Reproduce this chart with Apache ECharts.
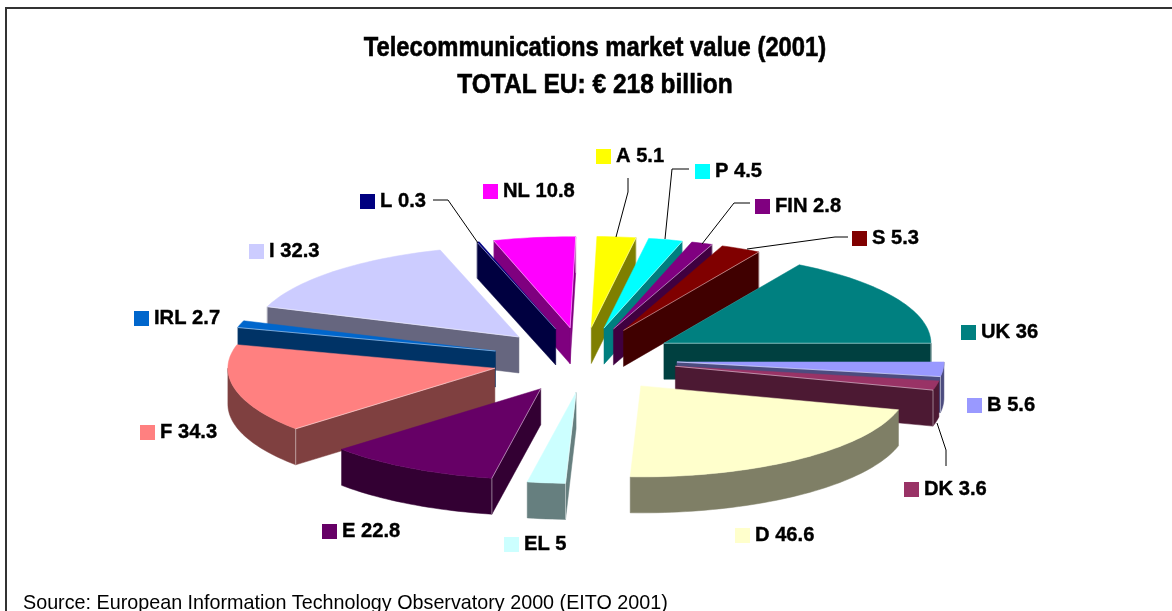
<!DOCTYPE html>
<html><head><meta charset="utf-8">
<style>html,body{margin:0;padding:0;background:#fff;overflow:hidden}#c{width:1172px;height:611px}</style>
<script src="https://cdn.jsdelivr.net/npm/echarts@6/dist/echarts.min.js"></script>
</head><body><div id="c"></div>
<script>
const categories = ['A','P','FIN','S','UK','B','DK','D','EL','E','F','IRL','I','L','NL'];
const values = [5.1,4.5,2.8,5.3,36,5.6,3.6,46.6,5,22.8,34.3,2.7,32.3,0.3,10.8];
const colors = ['#FFFF00','#00FFFF','#800080','#800000','#008080','#9999FF','#993366','#FFFFCC','#CCFFFF','#660066','#FF8080','#0066CC','#CCCCFF','#000080','#FF00FF'];
const titleLines = ['Telecommunications market value (2001)','TOTAL EU: € 218 billion'];
const sourceText = 'Source: European Information Technology Observatory 2000 (EITO 2001)';

// label square positions (layout only)
const labelX = [596,695,755,852,961,967,904,735,504,322,140,134,249,360,483];
const labelY = [149,164,199,231,325,398,482,528,537,524,425,311,244,194,184];
const leaders = {
  A:[[628,178],[628,192],[616,237]],
  P:[[689,169],[672,169],[665,239]],
  FIN:[[750,203],[734,203],[702,244]],
  S:[[848,237],[835,237],[747,249]],
  DK:[[946,466],[946,450],[937,423]],
  L:[[433,200],[448,200],[478,243]]
};

const CX=584.5, CY=360, RX=267, RY=91, EX=92.6, EY=32.6, H=36, ROT=1.2;
const FONT='"Liberation Sans",Arial,sans-serif';
const total = values.reduce((a,b)=>a+b,0);
const rad = d=>d*Math.PI/180;

function half(hex){
  const n=parseInt(hex.slice(1),16);
  return 'rgb('+((n>>16&255)>>1)+','+((n>>8&255)>>1)+','+((n&255)>>1)+')';
}
let acc=0;
const slices = values.map((v,i)=>{
  const a0=acc/total*360; acc+=v; const a1=acc/total*360;
  return {i, name:categories[i], value:v, a0, a1, mid:(a0+a1)/2};
});
// paint back-to-front
const paintOrder = slices.slice().sort((p,q)=>Math.cos(rad(q.mid))-Math.cos(rad(p.mid)));

function arcPts(ax,ay,a0,a1,dy){
  const n=Math.max(2,Math.ceil((a1-a0)/1.5)), pts=[];
  for(let k=0;k<=n;k++){
    const t=rad(a0+(a1-a0)*k/n);
    pts.push([ax+RX*Math.sin(t), ay-RY*Math.cos(t)+dy]);
  }
  return pts;
}

function renderSlice(params, api){
  const s=paintOrder[params.dataIndex];
  const m=rad(s.mid);
  const ax=CX+EX*Math.sin(m), ay=CY-EY*Math.cos(m);
  const a0=s.a0+ROT, a1=s.a1+ROT;
  const top=colors[s.i], side=half(top);
  const children=[], seams=[];
  const poly=(points,fill)=>children.push({type:'polygon',shape:{points},style:{fill,stroke:fill,lineWidth:0.5}});
  const wall=(ang)=>{
    const t=rad(ang), ex=ax+RX*Math.sin(t), ey=ay-RY*Math.cos(t);
    poly([[ax,ay],[ex,ey],[ex,ey+H],[ax,ay+H]],side);
    seams.push([[ax,ay],[ex,ey],[ex,ey+H]]);
  };
  if(Math.sin(rad(a0))<0) wall(a0);
  if(Math.sin(rad(a1))>0) wall(a1);
  const w0=Math.max(a0,90), w1=Math.min(a1,270);
  if(w1>w0){
    const up=arcPts(ax,ay,w0,w1,0), dn=arcPts(ax,ay,w0,w1,H).reverse();
    poly(up.concat(dn),side);
  }
  poly([[ax,ay]].concat(arcPts(ax,ay,a0,a1,0)),top);
  seams.forEach(p=>children.push({type:'polyline',shape:{points:p},style:{stroke:'rgba(255,255,255,0.45)',lineWidth:1,fill:null}}));
  return {type:'group',children};
}

function renderLabel(params, api){
  const i=params.dataIndex, name=categories[i], x=labelX[i], y=labelY[i];
  const children=[
    {type:'rect',shape:{x,y,width:15,height:15},style:{fill:colors[i]}},
    {type:'text',x:x+20,y:y+7.5,scaleX:0.96,style:{text:name+' '+values[i],fill:'#000',stroke:'#000',lineWidth:0.4,
      font:'bold 21px '+FONT,verticalAlign:'middle',align:'left'}}
  ];
  if(leaders[name]) children.push({type:'polyline',shape:{points:leaders[name]},style:{stroke:'#000',lineWidth:1,fill:null}});
  return {type:'group',children};
}

const chart=echarts.init(document.getElementById('c'),null,{renderer:'canvas'});
chart.setOption({
  animation:false,
  backgroundColor:'#fff',
  graphic:[
    {type:'rect',shape:{x:6,y:8,width:1170,height:620},style:{fill:null,stroke:'#333',lineWidth:2},silent:true,z:-1},
    {type:'text',x:595,y:48,scaleX:0.85,style:{text:titleLines[0],fill:'#000',stroke:'#000',lineWidth:0.6,font:'bold 28px '+FONT,align:'center',verticalAlign:'middle'}},
    {type:'text',x:595,y:85,scaleX:0.875,style:{text:titleLines[1],fill:'#000',stroke:'#000',lineWidth:0.6,font:'bold 28px '+FONT,align:'center',verticalAlign:'middle'}},
    {type:'text',x:23,y:603,scaleX:0.94,style:{text:sourceText,fill:'#000',font:'normal 21px '+FONT,align:'left',verticalAlign:'middle'}}
  ],
  series:[
    {type:'custom',coordinateSystem:'none',renderItem:renderSlice,silent:true,
     data:paintOrder.map(s=>({name:s.name,value:s.value}))},
    {type:'custom',coordinateSystem:'none',renderItem:renderLabel,silent:true,z:5,
     data:categories.map((c,i)=>({name:c,value:values[i]}))}
  ]
});
</script></body></html>
